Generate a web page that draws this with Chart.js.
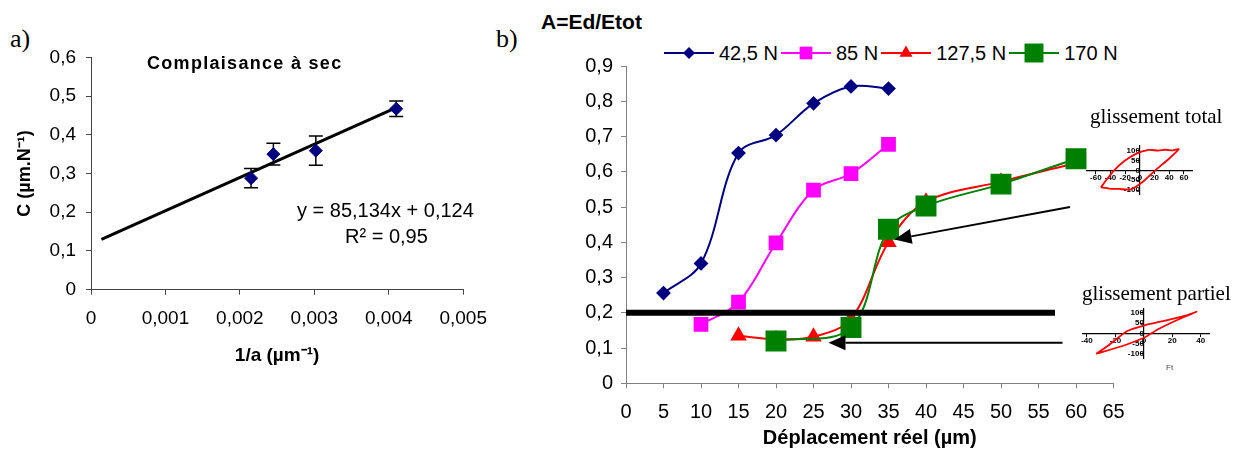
<!DOCTYPE html>
<html>
<head>
<meta charset="utf-8">
<title>Complaisance / A=Ed/Etot</title>
<script src="https://cdn.jsdelivr.net/npm/chart.js@4.4.1/dist/chart.umd.min.js"></script>
<style>
    body { margin: 0; background: #fff; width: 1234px; height: 452px; position: relative; overflow: hidden;
           font-family: "Liberation Sans", Arial, sans-serif; color: #000; }
    canvas, .txt { position: absolute; }
    .txt { white-space: nowrap; line-height: 1; }
    .serif { font-family: "Liberation Serif", "Times New Roman", serif; }
    #legendB { position: absolute; left: 664px; top: 41px; height: 24px; display: flex; align-items: center; font-size: 20px; }
    #legendB .item { display: flex; align-items: center; margin-right: 3px; }
    #legendB canvas { position: static; }
    #legendB span { margin-left: 5px; }
</style>
</head>
<body>

<div class="txt serif" style="left:10px; top:26px; font-size:26px;">a)</div>
<div class="txt serif" style="left:496px; top:26px; font-size:26px;">b)</div>

<canvas id="chartA" width="500" height="370" style="left:0; top:0;"></canvas>
<div class="txt" style="left:147px; top:54px; font-size:18px; font-weight:bold; letter-spacing:1.3px;">Complaisance à sec</div>
<div class="txt" style="left:297px; top:200px; font-size:20px;">y = 85,134x + 0,124</div>
<div class="txt" style="left:345px; top:226px; font-size:20px;">R² = 0,95</div>

<div class="txt" style="left:541px; top:11px; font-size:21px; font-weight:bold;">A=Ed/Etot</div>
<div id="legendB"></div>
<canvas id="chartB" width="600" height="452" style="left:560px; top:0;"></canvas>

<div class="txt serif" style="left:1090px; top:106px; font-size:21px;">glissement total</div>
<canvas id="insetTotal" width="125" height="70" style="left:1077px; top:135px;"></canvas>
<div class="txt serif" style="left:1082px; top:283px; font-size:21px;">glissement partiel</div>
<canvas id="insetPartial" width="148" height="70" style="left:1072px; top:298px;"></canvas>
<div class="txt" style="left:1166px; top:364px; font-size:8px; color:#444;">Ft</div>

<script>
// a) compliance against 1/a
const invA = [0.00215, 0.00245, 0.00302, 0.0041];
const compliance = [0.288, 0.35, 0.359, 0.467];
const complianceErr = [0.025, 0.028, 0.038, 0.02];
const trendX = [0.00014, 0.0041];
const trendY = [0.13, 0.47];

// b) A = Ed/Etot against real displacement, one series per normal load
const loads = ['42,5 N', '85 N', '127,5 N', '170 N'];
const disp425 = [5, 10, 15, 20, 25, 30, 35];
const ratio425 = [0.256, 0.34, 0.653, 0.704, 0.794, 0.842, 0.836];
const disp85 = [10, 15, 20, 25, 30, 35];
const ratio85 = [0.167, 0.23, 0.398, 0.548, 0.595, 0.678];
const disp1275 = [15, 20, 25, 30, 35, 40, 50, 60];
const ratio1275 = [0.135, 0.125, 0.132, 0.183, 0.40, 0.515, 0.572, 0.625];
const disp170 = [20, 30, 35, 40, 50, 60];
const ratio170 = [0.12, 0.158, 0.437, 0.503, 0.565, 0.637];
const thresholdX = [0, 57.2];
const thresholdY = [0.2, 0.2];

// arrows pointing from the insets to the curves (data units)
const arrowFromX = [59.2, 58.2];
const arrowFromY = [0.5, 0.115];
const arrowToX = [35.8, 27.0];
const arrowToY = [0.408, 0.115];

// inset loops (Ft against displacement)
const totalLoopX = [-53, -46, -35, -22, -6, 12, 25, 35, 45, 53, 40, 21, 5, -13, -28, -42, -53];
const totalLoopY = [-86, -50, 0, 45, 82, 103, 100, 104, 101, 107, 60, 0, -55, -97, -94, -92, -86];
const totalTicksX = [-60, -40, -20, 0, 20, 40, 60];
const partialLoopX = [-33.5, -25, -12, 0, 15, 30, 37, 25, 10, 0, -15, -33.5];
const partialLoopY = [-100, -60, 10, 38, 62, 88, 105, 70, 20, -22, -62, -100];
const partialTicksX = [-40, -20, 0, 20, 40];
const insetTicksY = [-100, -50, 0, 50, 100];

function toPoints(xs, ys) {
    return xs.map((x, i) => ({ x: x, y: ys[i] }));
}

function commaFixed(v, digits) {
    if (Math.abs(v) < 1e-9) return '0';
    return v.toFixed(digits).replace('.', ',');
}

Chart.defaults.font.family = '"Liberation Sans", Arial, sans-serif';
Chart.defaults.color = '#000';
Chart.defaults.animation = false;
Chart.defaults.plugins.legend.display = false;
Chart.defaults.plugins.tooltip.enabled = false;

// error bars for chart a)
const errorBarPlugin = {
    id: 'errorBars',
    beforeDatasetsDraw(chart) {
        const { ctx, scales: { x, y } } = chart;
        ctx.save();
        ctx.strokeStyle = '#000';
        ctx.lineWidth = 1.5;
        invA.forEach((v, i) => {
            const px = x.getPixelForValue(v);
            const top = y.getPixelForValue(compliance[i] + complianceErr[i]);
            const bot = y.getPixelForValue(compliance[i] - complianceErr[i]);
            ctx.beginPath();
            ctx.moveTo(px, top); ctx.lineTo(px, bot);
            ctx.moveTo(px - 7, top); ctx.lineTo(px + 7, top);
            ctx.moveTo(px - 7, bot); ctx.lineTo(px + 7, bot);
            ctx.stroke();
        });
        ctx.restore();
    }
};

// arrows for chart b)
const arrowPlugin = {
    id: 'arrows',
    afterDatasetsDraw(chart) {
        const { ctx, scales: { x, y } } = chart;
        ctx.save();
        arrowFromX.forEach((fx, i) => {
            const x0 = x.getPixelForValue(fx), y0 = y.getPixelForValue(arrowFromY[i]);
            const x1 = x.getPixelForValue(arrowToX[i]), y1 = y.getPixelForValue(arrowToY[i]);
            const ang = Math.atan2(y1 - y0, x1 - x0);
            const len = 17, half = 7.5;
            const bx = x1 - len * Math.cos(ang), by = y1 - len * Math.sin(ang);
            ctx.strokeStyle = '#000';
            ctx.lineWidth = 2;
            ctx.beginPath();
            ctx.moveTo(x0, y0);
            ctx.lineTo(bx, by);
            ctx.stroke();
            ctx.fillStyle = '#000';
            ctx.beginPath();
            ctx.moveTo(x1, y1);
            ctx.lineTo(bx + half * Math.sin(ang), by - half * Math.cos(ang));
            ctx.lineTo(bx - half * Math.sin(ang), by + half * Math.cos(ang));
            ctx.closePath();
            ctx.fill();
        });
        ctx.restore();
    }
};

function axisStyle(color) {
    return {
        grid: { display: true, drawOnChartArea: false, drawTicks: true, tickLength: 5, color: color },
        border: { display: true, color: color, width: 1 }
    };
}

// Chart a)
new Chart(document.getElementById('chartA'), {
    type: 'scatter',
    data: {
        datasets: [{
            label: 'C',
            data: toPoints(invA, compliance),
            pointStyle: 'rectRot',
            pointRadius: 6.5,
            backgroundColor: '#000080',
            borderColor: '#000080'
        }, {
            label: 'trend',
            data: toPoints(trendX, trendY),
            showLine: true,
            borderColor: '#000',
            borderWidth: 3,
            pointRadius: 0
        }]
    },
    options: {
        responsive: false,
        layout: { padding: { left: 0, right: 31.3, top: 57.3, bottom: 0 } },
        scales: {
            x: Object.assign(axisStyle('#444'), {
                type: 'linear', min: 0, max: 0.005,
                ticks: { stepSize: 0.001, padding: 13, font: { size: 19 }, callback: v => commaFixed(v, 3) },
                title: { display: true, text: '1/a (µm⁻¹)', font: { size: 19, weight: 'bold' }, padding: { top: 0, bottom: 2.6 } },
                afterFit: s => { s.height = 80.3; }
            }),
            y: Object.assign(axisStyle('#444'), {
                min: 0, max: 0.6,
                ticks: { stepSize: 0.1, padding: 10, font: { size: 19 }, callback: v => commaFixed(v, 1) },
                title: { display: true, text: 'C (µm.N⁻¹)', font: { size: 18, weight: 'bold' }, padding: { top: 14, bottom: 0 } },
                afterFit: s => { s.width = 91; }
            })
        }
    },
    plugins: [errorBarPlugin]
});

// Chart b)
const seriesB = [
    { label: loads[0], xs: disp425, ys: ratio425, color: '#000080', style: 'rectRot', radius: 6, order: 4 },
    { label: loads[1], xs: disp85, ys: ratio85, color: '#FF00FF', style: 'rect', radius: 9, order: 3 },
    { label: loads[2], xs: disp1275, ys: ratio1275, color: '#FF0000', style: 'triangle', radius: 7.5, order: 2 },
    { label: loads[3], xs: disp170, ys: ratio170, color: '#008000', style: 'rect', radius: 13.4, order: 1 }
];

const datasetsB = seriesB.map(s => ({
    label: s.label,
    data: toPoints(s.xs, s.ys),
    showLine: true,
    tension: 0.35,
    borderColor: s.color,
    borderWidth: 2,
    pointStyle: s.style,
    pointRadius: s.radius,
    pointBackgroundColor: s.color,
    pointBorderColor: s.color,
    order: s.order
}));
datasetsB.push({
    label: 'seuil',
    data: toPoints(thresholdX, thresholdY),
    showLine: true,
    borderColor: '#000',
    borderWidth: 6,
    pointRadius: 0,
    order: 0
});

new Chart(document.getElementById('chartB'), {
    type: 'scatter',
    data: { datasets: datasetsB },
    options: {
        responsive: false,
        layout: { padding: { left: 0, right: 46.5, top: 66, bottom: 0 } },
        scales: {
            x: Object.assign(axisStyle('#808080'), {
                type: 'linear', min: 0, max: 65,
                ticks: { stepSize: 5, padding: 12, font: { size: 20 } },
                title: { display: true, text: 'Déplacement réel (µm)', font: { size: 20, weight: 'bold' }, padding: { top: 0, bottom: 2 } },
                afterFit: s => { s.height = 68.7; }
            }),
            y: Object.assign(axisStyle('#808080'), {
                min: 0, max: 0.9,
                ticks: { stepSize: 0.1, padding: 8, font: { size: 20 }, callback: v => commaFixed(v, 1) },
                afterFit: s => { s.width = 66; }
            })
        }
    },
    plugins: [arrowPlugin]
});

// legend for chart b): line with its marker, then the label
function drawLegendSymbol(canvas, s) {
    const ctx = canvas.getContext('2d');
    const w = canvas.width, h = canvas.height, cx = w / 2, cy = h / 2;
    ctx.strokeStyle = s.color;
    ctx.fillStyle = s.color;
    ctx.lineWidth = 2;
    ctx.beginPath();
    ctx.moveTo(0, cy); ctx.lineTo(w, cy);
    ctx.stroke();
    const r = s.radius;
    ctx.beginPath();
    if (s.style === 'rectRot') {
        ctx.moveTo(cx, cy - r); ctx.lineTo(cx + r, cy); ctx.lineTo(cx, cy + r); ctx.lineTo(cx - r, cy);
    } else if (s.style === 'triangle') {
        ctx.moveTo(cx, cy - r);
        ctx.lineTo(cx + r * Math.sin(Math.PI / 3), cy + r / 2);
        ctx.lineTo(cx - r * Math.sin(Math.PI / 3), cy + r / 2);
    } else {
        const half = r * Math.SQRT1_2;
        ctx.rect(cx - half, cy - half, 2 * half, 2 * half);
    }
    ctx.closePath();
    ctx.fill();
}

const legendEl = document.getElementById('legendB');
seriesB.forEach(s => {
    const item = document.createElement('div');
    item.className = 'item';
    const c = document.createElement('canvas');
    c.width = 50; c.height = 24;
    drawLegendSymbol(c, s);
    const span = document.createElement('span');
    span.textContent = s.label;
    item.appendChild(c);
    item.appendChild(span);
    legendEl.appendChild(item);
});

// small hysteresis loop insets
function makeInset(id, xs, ys, xr, yr, ticksX, ticksY, padding) {
    const tickFont = { size: 8, weight: 'bold' };
    new Chart(document.getElementById(id), {
        type: 'scatter',
        data: {
            datasets: [{
                data: toPoints(xs, ys),
                showLine: true,
                tension: 0.2,
                borderColor: '#FF0000',
                borderWidth: 1.8,
                pointRadius: 0,
                clip: false
            }]
        },
        options: {
            responsive: false,
            layout: { padding: padding },
            scales: {
                x: {
                    type: 'linear', position: { y: 0 }, min: xr[0], max: xr[1],
                    grid: { drawOnChartArea: false, tickLength: 3, color: '#000' },
                    border: { color: '#000', width: 1.2 },
                    ticks: { padding: 0, autoSkip: false, maxRotation: 0, font: tickFont },
                    afterBuildTicks: s => { s.ticks = ticksX.map(v => ({ value: v })); }
                },
                y: {
                    position: { x: 0 }, min: yr[0], max: yr[1],
                    grid: { drawOnChartArea: false, tickLength: 3, color: '#000' },
                    border: { color: '#000', width: 1.2 },
                    ticks: { padding: 1, autoSkip: false, font: tickFont },
                    afterBuildTicks: s => { s.ticks = ticksY.map(v => ({ value: v })); }
                }
            }
        }
    });
}

makeInset('insetTotal', totalLoopX, totalLoopY, [-72, 71], [-124, 127], totalTicksX, insetTicksY,
    { left: 10, right: 10, top: 10.2, bottom: 10.1 });
makeInset('insetPartial', partialLoopX, partialLoopY, [-43, 46], [-122, 122], partialTicksX, insetTicksY,
    { left: 10.7, right: 10.7, top: 10.3, bottom: 9.7 });
</script>
</body>
</html>
